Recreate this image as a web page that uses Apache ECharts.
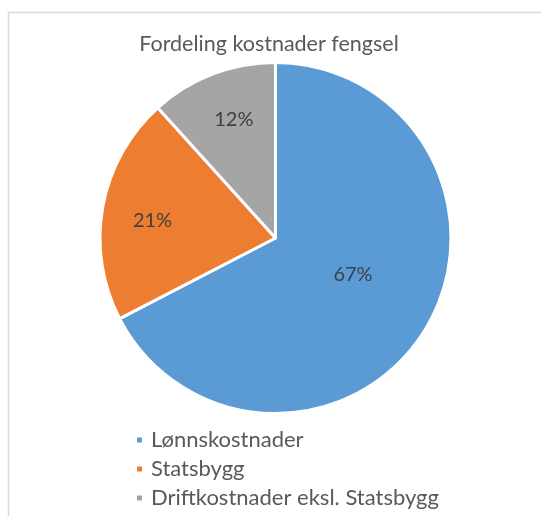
<!DOCTYPE html>
<html>
<head>
<meta charset="utf-8">
<script src="https://cdn.jsdelivr.net/npm/echarts@6/dist/echarts.min.js"></script>
<style>html,body{margin:0;padding:0;background:#fff}#c{width:541px;height:516px}</style>
</head>
<body>
<div id="c"></div>
<script>
const title = 'Fordeling kostnader fengsel';
const categories = ['Lønnskostnader', 'Statsbygg', 'Driftkostnader eksl. Statsbygg'];
const values = [67.4, 20.9, 11.7];
const colors = ['#5B9BD5', '#ED7D31', '#A5A5A5'];

const FONT = 'Lato';
const pct = p => Math.round(p.percent) + '%';
const labelBase = {fontFamily: FONT, fontSize: 20, color: '#404040'};

const chart = echarts.init(document.getElementById('c'), null, {renderer: 'canvas'});
chart.setOption({
  animation: false,
  backgroundColor: '#fff',
  graphic: [{
    type: 'rect', silent: true,
    shape: {x: 8.5, y: 12.5, width: 700, height: 700},
    style: {fill: 'none', stroke: '#d9d9d9', lineWidth: 1.5}
  }],
  title: {
    text: title, left: 269, top: 33, textAlign: 'center', padding: 0,
    textStyle: {fontFamily: FONT, fontSize: 21.5, fontWeight: 'normal', color: '#595959'}
  },
  legend: {
    orient: 'vertical', left: 135, top: 429, height: 120, padding: 0,
    itemWidth: 7, itemHeight: 7, itemGap: 7, icon: 'rect',
    data: categories,
    textStyle: {fontFamily: FONT, fontSize: 22, color: '#595959', lineHeight: 22, padding: [0, 0, 0, 3]}
  },
  series: [{
    type: 'pie',
    center: [275.5, 238],
    radius: 175.5,
    startAngle: 90,
    clockwise: true,
    label: Object.assign({show: true, position: 'inside', lineHeight: 22,
      formatter: p => pct(p) + '\n '}, labelBase),
    labelLine: {show: false},
    itemStyle: {borderColor: '#fff', borderWidth: 3},
    emphasis: {disabled: true},
    data: categories.map((n, i) => ({
      name: n, value: values[i],
      itemStyle: {color: colors[i]},
      label: {show: i === 0}
    }))
  }, {
    // transparent overlay that only places the two smaller slices' labels further out
    type: 'pie',
    silent: true,
    center: [275.5, 238],
    radius: [114, 134],
    startAngle: 90,
    clockwise: true,
    label: Object.assign({show: true, position: 'inside', formatter: pct}, labelBase),
    labelLine: {show: false},
    itemStyle: {color: 'rgba(0,0,0,0)', borderWidth: 0},
    emphasis: {disabled: true},
    data: categories.map((n, i) => ({
      name: n, value: values[i],
      label: i === 1
        ? {show: true, padding: [0, 0, 0, 4], lineHeight: 10, formatter: p => ' \n' + pct(p)}
        : {show: i !== 0, padding: [0, 0, 0, 8]}
    }))
  }]
});
</script>
</body>
</html>
